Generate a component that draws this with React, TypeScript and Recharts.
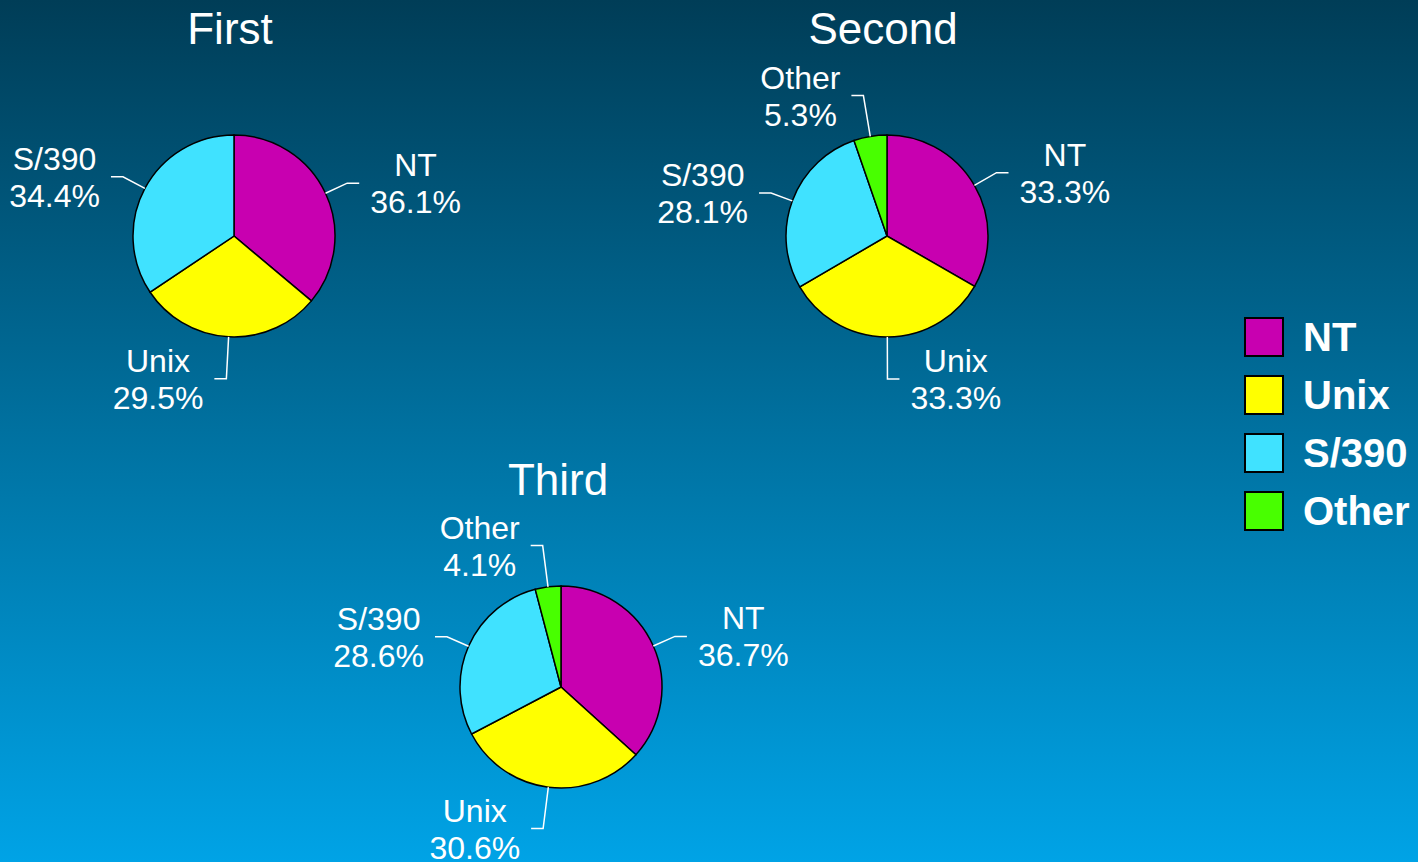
import React from "react";
import { PieChart, Pie, Cell, Legend } from "recharts";

const categories = ["NT", "Unix", "S/390", "Other"];
const colors = ["#C800B0", "#FFFF00", "#40E2FF", "#48FF00"];
const pieTitles = ["First", "Second", "Third"];
const firstValues = [36.1, 29.5, 34.4, 0];
const secondValues = [33.3, 33.3, 28.1, 5.3];
const thirdValues = [36.7, 30.6, 28.6, 4.1];

const allValues = [firstValues, secondValues, thirdValues];

// layout of the three pies (pixels inside the 1418x862 canvas)
const pieLayout = [
  { cx: 234, cy: 236, titleX: 230, titleY: 44 },
  { cx: 887, cy: 236, titleX: 883, titleY: 44 },
  { cx: 561, cy: 687, titleX: 558, titleY: 495 },
];
const RADIUS = 101;
const FONT = "'Liberation Sans', Arial, sans-serif";
const RAD = Math.PI / 180;

// rough Arial advance widths (em) so the two label lines can be centred on each other
const charW: Record<string, number> = {
  "0": 0.556, "1": 0.556, "2": 0.556, "3": 0.556, "4": 0.556, "5": 0.556, "6": 0.556,
  "7": 0.556, "8": 0.556, "9": 0.556, ".": 0.278, "%": 0.889, "/": 0.278,
  N: 0.722, T: 0.611, U: 0.722, S: 0.667, O: 0.778,
  n: 0.556, i: 0.222, x: 0.5, t: 0.278, h: 0.556, e: 0.556, r: 0.333,
};
const textWidth = (s: string, size: number) =>
  s.split("").reduce((w, ch) => w + (charW[ch] ?? 0.556), 0) * size;

const renderLabel = (props: any) => {
  const { cx, cy, midAngle, outerRadius, name, value } = props;
  const c = Math.cos(-midAngle * RAD);
  const s = Math.sin(-midAngle * RAD);
  const edge = { x: cx + outerRadius * c, y: cy + outerRadius * s };
  const d = outerRadius + 20 + 22 * s * s;
  const elbow = { x: cx + d * c, y: cy + d * s };
  const side = c >= 0 ? 1 : -1;
  const hEnd = elbow.x + side * 12;
  const pct = `${Number(value).toFixed(1)}%`;
  const w = Math.max(textWidth(name, 32), textWidth(pct, 32));
  const tx = hEnd + side * (11 + w / 2);
  return (
    <g key={`lbl-${name}-${cx}`}>
      <polyline
        points={`${edge.x},${edge.y} ${elbow.x},${elbow.y} ${hEnd},${elbow.y}`}
        fill="none"
        stroke="#fff"
        strokeWidth={1.5}
      />
      <text x={tx} y={elbow.y - 7} textAnchor="middle" fill="#fff" fontSize={32} fontFamily={FONT}>
        {name}
      </text>
      <text x={tx} y={elbow.y + 30} textAnchor="middle" fill="#fff" fontSize={32} fontFamily={FONT}>
        {pct}
      </text>
    </g>
  );
};

const LegendBox = () => (
  <div style={{ fontFamily: FONT }}>
    {categories.map((cat, i) => (
      <div key={cat} style={{ display: "flex", alignItems: "center", height: 40, marginBottom: 18 }}>
        <div
          style={{
            width: 40,
            height: 40,
            boxSizing: "border-box",
            border: "2px solid #000",
            background: colors[i],
          }}
        />
        <span style={{ marginLeft: 19, color: "#fff", fontWeight: "bold", fontSize: 40, lineHeight: "40px" }}>
          {cat}
        </span>
      </div>
    ))}
  </div>
);

export default function App() {
  const pies = allValues.map((vals) =>
    categories
      .map((name, i) => ({ name, value: vals[i], color: colors[i] }))
      .filter((d) => d.value > 0)
  );

  return (
    <div
      style={{
        position: "absolute",
        left: 0,
        top: 0,
        width: 1418,
        height: 862,
        overflow: "hidden",
        background: "linear-gradient(to bottom, #003d57 0%, #0071a0 50%, #00a3e6 100%)",
      }}
    >
      <PieChart width={1418} height={862} margin={{ top: 0, right: 0, bottom: 0, left: 0 }}>
        {pies.map((data, p) => (
          <Pie
            key={pieTitles[p]}
            data={data}
            dataKey="value"
            nameKey="name"
            cx={pieLayout[p].cx}
            cy={pieLayout[p].cy}
            outerRadius={RADIUS}
            startAngle={90}
            endAngle={-270}
            stroke="#000"
            strokeWidth={1.5}
            label={renderLabel}
            labelLine={false}
            isAnimationActive={false}
          >
            {data.map((d) => (
              <Cell key={d.name} fill={d.color} />
            ))}
          </Pie>
        ))}
        <Legend
          layout="vertical"
          align="right"
          verticalAlign="middle"
          content={() => <LegendBox />}
          wrapperStyle={{ left: 1244, top: 317, width: 174 }}
        />
      </PieChart>
      <svg
        width={1418}
        height={862}
        style={{ position: "absolute", left: 0, top: 0, pointerEvents: "none" }}
      >
        {pieTitles.map((t, i) => (
          <text
            key={t}
            x={pieLayout[i].titleX}
            y={pieLayout[i].titleY}
            textAnchor="middle"
            fill="#fff"
            fontSize={44}
            fontFamily={FONT}
          >
            {t}
          </text>
        ))}
      </svg>
    </div>
  );
}
